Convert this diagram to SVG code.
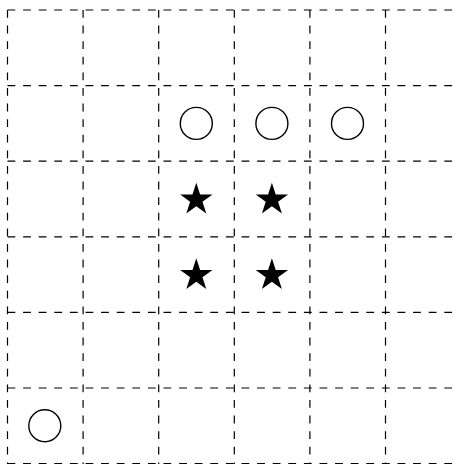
<svg xmlns="http://www.w3.org/2000/svg" width="458" height="464" viewBox="0 0 458 464">
  <style>
    .grid line { stroke: #000; stroke-width: 1.2; stroke-dasharray: 7.8 7.8; fill: none; }
    .ring { fill: none; stroke: #000; stroke-width: 1.4; }
    .star { fill: #000; stroke: none; }
  </style>
  <defs>
    <path id="starShape" d="M0,-17 L3.817,-5.254 L16.168,-5.253 L6.176,2.007 L9.992,13.753 L0,6.494 L-9.992,13.753 L-6.176,2.007 L-16.168,-5.253 L-3.817,-5.254 Z"/>
  </defs>
  <rect width="458" height="464" fill="#fff"/>
  <g id="grid" class="grid">
    <line x1="7.5" y1="10" x2="7.5" y2="464"/>
    <line x1="83.1" y1="10" x2="83.1" y2="464"/>
    <line x1="158.7" y1="10" x2="158.7" y2="464"/>
    <line x1="234.3" y1="10" x2="234.3" y2="464"/>
    <line x1="309.9" y1="10" x2="309.9" y2="464"/>
    <line x1="385.5" y1="10" x2="385.5" y2="464"/>
    <line x1="7.5" y1="10" x2="458" y2="10"/>
    <line x1="7.5" y1="85.6" x2="458" y2="85.6"/>
    <line x1="7.5" y1="161.2" x2="458" y2="161.2"/>
    <line x1="7.5" y1="236.8" x2="458" y2="236.8"/>
    <line x1="7.5" y1="312.4" x2="458" y2="312.4"/>
    <line x1="7.5" y1="388" x2="458" y2="388"/>
    <line x1="7.5" y1="463.6" x2="458" y2="463.6"/>
  </g>
  <g id="circles">
    <circle class="ring" cx="196.3" cy="123.4" r="16"/>
    <circle class="ring" cx="271.9" cy="123.4" r="16"/>
    <circle class="ring" cx="347.5" cy="123.4" r="16"/>
    <circle class="ring" cx="44.8" cy="425.8" r="16"/>
  </g>
  <g id="stars" class="star">
    <use href="#starShape" transform="translate(196.3,199.7)"/>
    <use href="#starShape" transform="translate(271.9,199.7)"/>
    <use href="#starShape" transform="translate(196.3,275.3)"/>
    <use href="#starShape" transform="translate(271.9,275.3)"/>
  </g>
</svg>
